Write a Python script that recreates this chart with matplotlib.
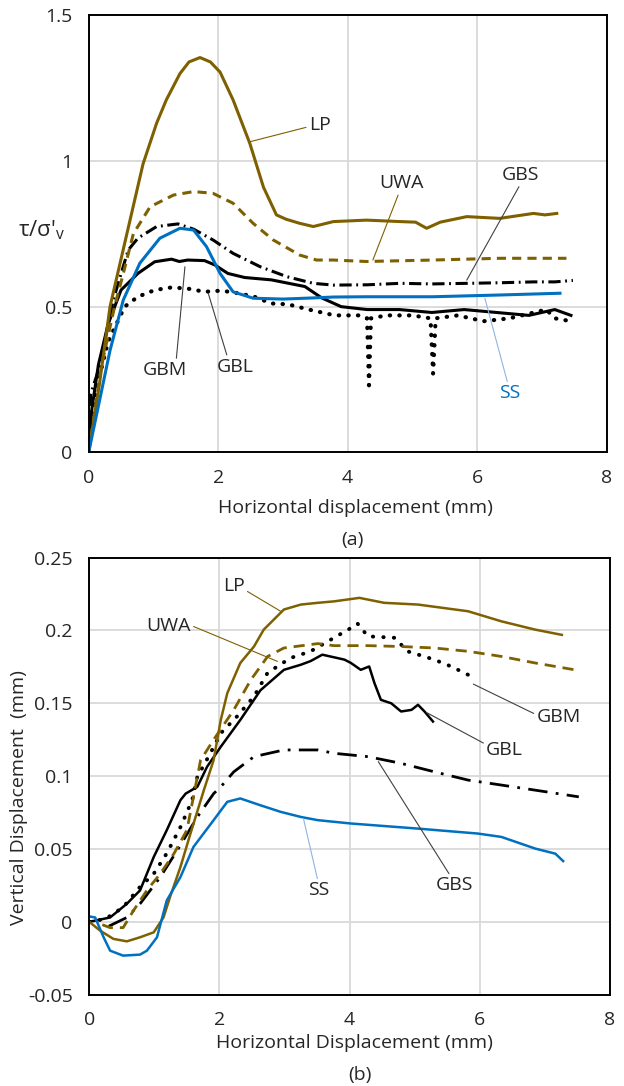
import matplotlib
matplotlib.use("Agg")
import matplotlib.pyplot as plt

plt.rcParams['font.family'] = ['Open Sans', 'DejaVu Sans']

OLIVE = '#7F6000'
BLUE = '#0070C0'
GRID = '#D9D9D9'
FS = 14

# ---- (a) shear stress ratio vs horizontal displacement ----
lp_a_x = [0, 0.17, 0.33, 0.59, 0.84, 1.05, 1.2, 1.41, 1.55, 1.72, 1.88, 2.03, 2.23, 2.49, 2.7, 2.9,
          3.05, 3.26, 3.47, 3.78, 4.29, 4.81, 5.05, 5.22, 5.43, 5.84, 6.35, 6.87, 7.05, 7.23]
lp_a_y = [0, 0.24, 0.5, 0.75, 0.99, 1.13, 1.21, 1.3, 1.34, 1.355, 1.34, 1.305, 1.21, 1.06, 0.91, 0.815,
          0.8, 0.786, 0.775, 0.792, 0.797, 0.792, 0.79, 0.769, 0.79, 0.809, 0.803, 0.82, 0.815, 0.82]

uwa_a_x = [0, 0.2, 0.4, 0.535, 0.69, 0.95, 1.31, 1.62, 1.92, 2.23, 2.54, 2.85, 3.26, 3.52, 3.78,
           4.29, 5.32, 6.35, 7.38]
uwa_a_y = [0, 0.3, 0.5, 0.614, 0.75, 0.843, 0.883, 0.895, 0.889, 0.855, 0.786, 0.729, 0.677, 0.66, 0.66,
           0.655, 0.66, 0.666, 0.666]

ss_a_x = [0, 0.17, 0.33, 0.535, 0.79, 1.1, 1.41, 1.62, 1.82, 2.03, 2.23, 2.54, 3.0, 3.47, 3.78, 4.29,
          5.32, 6.35, 7.28]
ss_a_y = [0, 0.18, 0.35, 0.523, 0.649, 0.735, 0.769, 0.763, 0.706, 0.614, 0.551, 0.529, 0.526, 0.53,
          0.533, 0.534, 0.534, 0.54, 0.546]

gbs_a_x = [0, 0.03, 0.17, 0.38, 0.61, 0.76, 1.05, 1.38, 1.62, 1.92, 2.23, 2.65, 3.06, 3.47, 3.78, 4.3,
           4.81, 5.3, 5.84, 6.35, 6.87, 7.2, 7.48]
gbs_a_y = [0, 0.2, 0.294, 0.523, 0.694, 0.735, 0.775, 0.784, 0.766, 0.729, 0.683, 0.637, 0.603, 0.58,
           0.574, 0.575, 0.58, 0.578, 0.58, 0.582, 0.585, 0.585, 0.59]

gbm_a_x = [0, 0.05, 0.15, 0.3, 0.5, 0.76, 1.02, 1.28, 1.4, 1.53, 1.79, 1.95, 2.15, 2.41, 2.82, 3.34,
           3.6, 3.9, 4.3, 4.8, 5.3, 5.8, 6.3, 6.8, 7.2, 7.45]
gbm_a_y = [0, 0.15, 0.3, 0.44, 0.557, 0.614, 0.654, 0.663, 0.655, 0.66, 0.658, 0.643, 0.614, 0.6,
           0.592, 0.569, 0.53, 0.5, 0.49, 0.49, 0.48, 0.49, 0.48, 0.47, 0.49, 0.47]

gbl_a_x = [0, 0.1, 0.3, 0.556, 0.76, 1.02, 1.28, 1.53, 1.79, 2.05, 2.31, 2.56, 2.82, 3.08, 3.4, 3.8,
           4.2, 4.3, 4.33, 4.36, 4.6, 5.0, 5.28, 5.32, 5.36, 5.7, 6.1, 6.5, 7.07, 7.2, 7.45]
gbl_a_y = [0, 0.2, 0.38, 0.5, 0.534, 0.557, 0.566, 0.562, 0.551, 0.555, 0.546, 0.534, 0.511, 0.508,
           0.49, 0.47, 0.47, 0.46, 0.23, 0.46, 0.47, 0.47, 0.46, 0.27, 0.46, 0.47, 0.45, 0.46, 0.49,
           0.46, 0.45]

# ---- (b) vertical vs horizontal displacement ----
lp_b_x = [0, 0.165, 0.37, 0.577, 0.78, 0.99, 1.14, 1.24, 1.4, 1.55, 1.76, 1.91, 2.02, 2.12, 2.32, 2.53,
          2.68, 2.99, 3.25, 3.51, 3.76, 4.15, 4.53, 5.05, 5.82, 6.33, 6.85, 7.26]
lp_b_y = [0, -0.006, -0.0117, -0.0134, -0.0106, -0.0072, 0.003, 0.017, 0.0376, 0.06, 0.0904, 0.111,
          0.1386, 0.157, 0.1777, 0.189, 0.2006, 0.2144, 0.2178, 0.219, 0.22, 0.2224, 0.219, 0.2178,
          0.2132, 0.2063, 0.2006, 0.197]

uwa_b_x = [0.2, 0.32, 0.52, 0.68, 0.885, 1.09, 1.3, 1.5, 1.71, 1.91, 2.22, 2.48, 2.74, 2.99, 3.51,
           3.76, 4.28, 4.79, 5.3, 5.82, 6.33, 6.85, 7.46]
uwa_b_y = [-0.002, -0.004, -0.004, 0.0078, 0.0216, 0.033, 0.0468, 0.063, 0.111, 0.125, 0.1455, 0.166,
           0.1822, 0.188, 0.191, 0.1896, 0.1896, 0.189, 0.188, 0.1857, 0.1822, 0.1777, 0.173]

gbm_b_x = [0, 0.25, 0.52, 0.78, 0.99, 1.19, 1.4, 1.58, 1.66, 1.86, 2.02, 2.27, 2.53, 2.74, 3.09, 3.4,
           3.76, 4.07, 4.12, 4.28, 4.69, 4.89, 5.3, 5.56, 5.87]
gbm_b_y = [0, 0.002, 0.01, 0.024, 0.033, 0.047, 0.065, 0.0835, 0.0996, 0.1157, 0.1295, 0.141, 0.1547,
           0.171, 0.1811, 0.1857, 0.195, 0.203, 0.2048, 0.196, 0.195, 0.1857, 0.18, 0.1753, 0.1685]

gbl_b_x = [0, 0.32, 0.577, 0.78, 0.99, 1.19, 1.4, 1.48, 1.66, 1.81, 2.02, 2.32, 2.63, 2.99, 3.25, 3.4,
           3.58, 3.92, 4.02, 4.17, 4.3, 4.38, 4.48, 4.64, 4.79, 4.95, 5.05, 5.15, 5.28]
gbl_b_y = [0, 0.003, 0.0124, 0.0216, 0.0445, 0.0629, 0.0835, 0.088, 0.0927, 0.1065, 0.1202, 0.1386,
           0.159, 0.173, 0.1765, 0.179, 0.1834, 0.18, 0.1777, 0.173, 0.1753, 0.164, 0.1524, 0.15, 0.1444,
           0.1455, 0.149, 0.1444, 0.1375]

gbs_b_x = [0.3, 0.577, 0.78, 1.09, 1.35, 1.66, 1.91, 2.02, 2.22, 2.53, 2.99, 3.51, 3.76, 4.28, 4.79,
           5.3, 5.82, 6.33, 6.85, 7.52]
gbs_b_y = [-0.003, 0.003, 0.0124, 0.0307, 0.049, 0.072, 0.088, 0.0927, 0.103, 0.1134, 0.118, 0.118,
           0.1157, 0.1134, 0.1088, 0.103, 0.0973, 0.0939, 0.0904, 0.0858]

ss_b_x = [0, 0.09, 0.22, 0.32, 0.52, 0.78, 0.885, 1.04, 1.19, 1.4, 1.6, 1.91, 2.12, 2.32, 2.63, 2.94,
          3.25, 3.51, 4.02, 5.05, 5.97, 6.33, 6.85, 7.16, 7.28]
ss_b_y = [0.0037, 0.003, -0.0106, -0.0198, -0.0232, -0.0225, -0.0198, -0.0106, 0.0147, 0.0307, 0.0514,
          0.0698, 0.0824, 0.0847, 0.08, 0.0755, 0.072, 0.0698, 0.0675, 0.064, 0.0606, 0.0583, 0.0503,
          0.0468, 0.0417]

fig = plt.figure(figsize=(6.24, 10.86), dpi=100)
ax1 = fig.add_axes([0.1421, 0.5835, 0.830, 0.4024])
ax2 = fig.add_axes([0.1431, 0.0841, 0.8345, 0.4024])


def style(ax):
    ax.grid(True, color=GRID, lw=1.3)
    ax.set_axisbelow(True)
    for s in ax.spines.values():
        s.set_linewidth(1.4)
        s.set_color('black')
    ax.tick_params(length=0, pad=12, labelsize=FS, colors='#262626')
    ax.set_xlim(0, 8)
    ax.set_xticks([0, 2, 4, 6, 8])


def label(ax, txt, xy, xyt, rel, color='#262626', lcol='#404040', ha='center'):
    ax.annotate(txt, xy=xy, xytext=xyt, ha=ha, va='center', fontsize=FS, color=color,
                arrowprops=dict(arrowstyle='-', color=lcol, lw=0.8, shrinkA=0, shrinkB=0,
                                relpos=rel))


# panel (a)
ax1.plot(gbl_a_x, gbl_a_y, color='black', lw=3, ls=(0, (0.1, 2.2)), dash_capstyle='round')
ax1.plot(gbm_a_x, gbm_a_y, color='black', lw=2.2)
ax1.plot(gbs_a_x, gbs_a_y, color='black', lw=2.2, ls=(0, (4, 1.5, 0.6, 1.5)))
ax1.plot(uwa_a_x, uwa_a_y, color=OLIVE, lw=2.2, ls=(0, (3, 2)))
ax1.plot(lp_a_x, lp_a_y, color=OLIVE, lw=2.2)
ax1.plot(ss_a_x, ss_a_y, color=BLUE, lw=2.2)
style(ax1)
ax1.set_ylim(0, 1.5)
ax1.set_yticks([0, 0.5, 1, 1.5])
ax1.set_yticklabels(['0', '0.5', '1', '1.5'])
ax1.text(-0.091, 0.509, "τ/σ'$_\\mathregular{v}$", transform=ax1.transAxes, fontsize=FS + 2,
         ha='center', va='center', color='#262626')

label(ax1, 'LP', (2.49, 1.066), (3.4, 1.124), (0, 0.4), lcol=OLIVE, ha='left')
label(ax1, 'UWA', (4.39, 0.66), (4.83, 0.923), (0.45, 0), lcol=OLIVE)
label(ax1, 'GBS', (5.84, 0.591), (6.67, 0.952), (0.5, 0))
label(ax1, 'SS', (6.12, 0.529), (6.51, 0.2025), (0.4, 1), color=BLUE, lcol='#8FB4E3')
label(ax1, 'GBM', (1.487, 0.637), (1.18, 0.2825), (0.75, 1))
label(ax1, 'GBL', (1.847, 0.546), (2.26, 0.294), (0.3, 1))

# panel (b)
ax2.plot(gbm_b_x, gbm_b_y, color='black', lw=2.8, ls=(0, (0.1, 2.6)), dash_capstyle='round')
ax2.plot(gbl_b_x, gbl_b_y, color='black', lw=1.8)
ax2.plot(gbs_b_x, gbs_b_y, color='black', lw=2, ls=(0, (7, 3, 1, 3)))
ax2.plot(uwa_b_x, uwa_b_y, color=OLIVE, lw=2, ls=(0, (4, 2.5)))
ax2.plot(lp_b_x, lp_b_y, color=OLIVE, lw=1.8)
ax2.plot(ss_b_x, ss_b_y, color=BLUE, lw=1.8)
style(ax2)
ax2.set_ylim(-0.05, 0.25)
ax2.set_yticks([-0.05, 0, 0.05, 0.1, 0.15, 0.2, 0.25])
ax2.set_yticklabels(['-0.05', '0', '0.05', '0.1', '0.15', '0.2', '0.25'])
ax2.text(-0.135, 0.452, 'Vertical Displacement  (mm)', transform=ax2.transAxes, rotation=90,
         fontsize=FS, ha='center', va='center', color='#262626')

label(ax2, 'LP', (2.94, 0.2132), (2.22, 0.2304), (1, 0.3), lcol=OLIVE)
label(ax2, 'UWA', (2.89, 0.1788), (1.218, 0.2029), (1.05, 0.5), lcol=OLIVE)
label(ax2, 'GBM', (5.9, 0.1632), (7.21, 0.1409), (0, 0.6))
label(ax2, 'GBL', (5.18, 0.1437), (6.38, 0.118), (0, 0.8))
label(ax2, 'GBS', (4.44, 0.11), (5.61, 0.025), (0.4, 1))
label(ax2, 'SS', (3.29, 0.0709), (3.53, 0.0216), (0.45, 1), lcol='#8FB4E3')

fig.text(355 / 624, 1 - 508 / 1086, 'Horizontal displacement (mm)', ha='center', va='center',
         fontsize=FS, color='#262626')
fig.text(352 / 624, 1 - 540 / 1086, '(a)', ha='center', va='center', fontsize=FS, color='#262626')
fig.text(354 / 624, 1 - 1043 / 1086, 'Horizontal Displacement (mm)', ha='center', va='center',
         fontsize=FS, color='#262626')
fig.text(360 / 624, 1 - 1075 / 1086, '(b)', ha='center', va='center', fontsize=FS, color='#262626')

fig.savefig('out.png', dpi=100)
